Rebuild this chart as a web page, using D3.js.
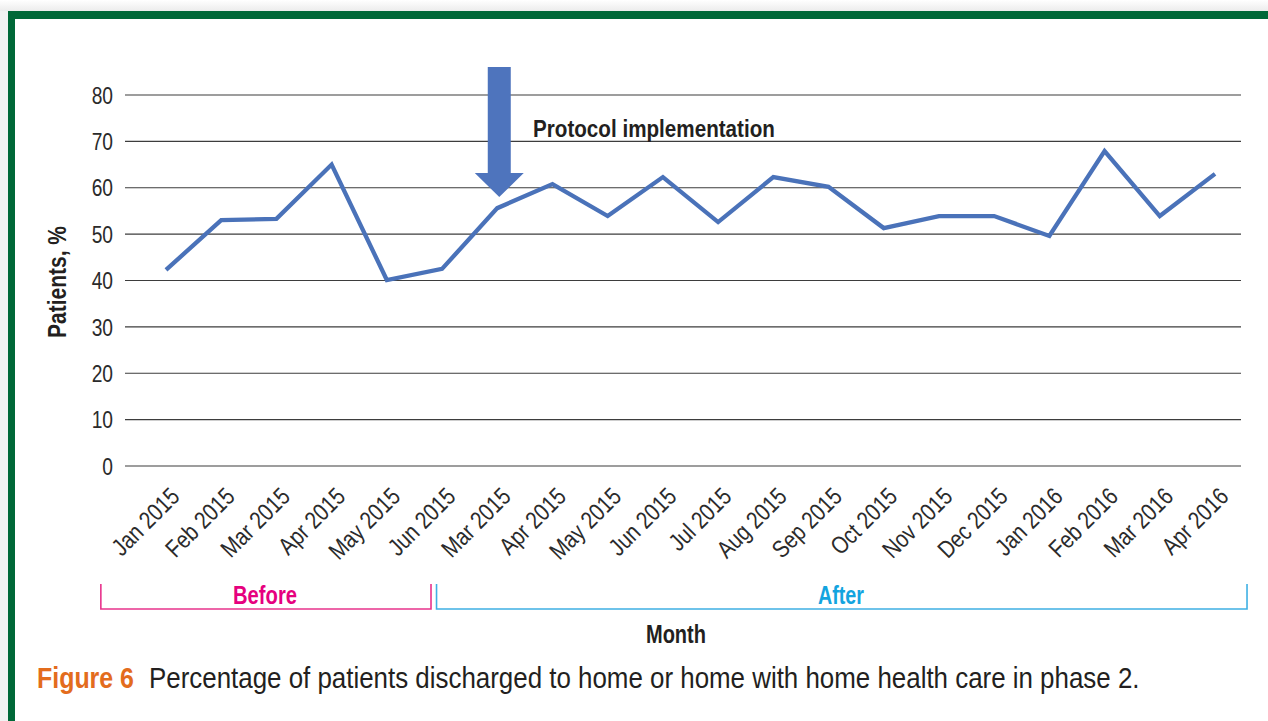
<!DOCTYPE html>
<html>
<head>
<meta charset="utf-8">
<script src="https://cdn.jsdelivr.net/npm/d3@7"></script>
<style>
  body { margin: 0; background: #fff; }
  text { font-family: "Liberation Sans", Arial, sans-serif; }
</style>
</head>
<body>
<div id="chart"></div>
<script>
const months = ["Jan 2015", "Feb 2015", "Mar 2015", "Apr 2015", "May 2015", "Jun 2015",
    "Mar 2015", "Apr 2015", "May 2015", "Jun 2015", "Jul 2015", "Aug 2015", "Sep 2015",
    "Oct 2015", "Nov 2015", "Dec 2015", "Jan 2016", "Feb 2016", "Mar 2016", "Apr 2016"];
const patients = [42.3, 53, 53.3, 65, 40.1, 42.5, 55.6, 60.8, 53.9, 62.3, 52.6, 62.3, 60.2,
    51.3, 53.9, 53.9, 49.6, 67.9, 53.9, 63];
const yTicks = [0, 10, 20, 30, 40, 50, 60, 70, 80];
const phaseNames = ["Before", "After"];
const phaseStart = [0, 6];
const phaseEnd = [5, 19];
const protocolAt = 6;

const width = 1268, height = 721;
const squeeze = 0.8; // condensed type look
const svg = d3.select('#chart').append('svg').attr('width', width).attr('height', height);

// squeeze a horizontal text to a given width with a transform
function fitText(sel, x0, y0, w, anchor) {
    const natural = sel.node().getComputedTextLength();
    const k = w / natural;
    const shift = anchor === 'middle' ? -w / 2 : 0;
    sel.attr('text-anchor', 'start').attr('transform', `translate(${x0 + shift},${y0}) scale(${k},1)`);
    return sel;
}

// page background + green frame
const bg = svg.append('defs').append('linearGradient').attr('id', 'fade').attr('x1', 0).attr('x2', 0).attr('y1', 0).attr('y2', 1);
bg.append('stop').attr('offset', 0).attr('stop-color', '#ffffff');
bg.append('stop').attr('offset', 1).attr('stop-color', '#ececec');
svg.append('rect').attr('width', width).attr('height', 11).attr('fill', 'url(#fade)');
svg.append('rect').attr('y', 11).attr('width', 8).attr('height', height).attr('fill', '#f2f2f2');
svg.append('rect').attr('x', 8).attr('y', 11).attr('width', width).attr('height', 8).attr('fill', '#006838');
svg.append('rect').attr('x', 8).attr('y', 11).attr('width', 7).attr('height', height).attr('fill', '#006838');

const x = d3.scalePoint().domain(d3.range(months.length)).range([166, 1215]);
const y = d3.scaleLinear().domain([0, 80]).range([466, 95]);
const gridLeft = 125, gridRight = 1241;

// gridlines
svg.append('g').selectAll('line').data(yTicks).join('line')
    .attr('x1', gridLeft).attr('x2', gridRight)
    .attr('y1', d => y(d)).attr('y2', d => y(d))
    .attr('stroke', '#3d3d3d').attr('stroke-width', 1.2);

// y tick labels
svg.append('g').selectAll('text').data(yTicks).join('text')
    .attr('transform', d => `translate(113,${y(d)}) scale(${squeeze},1)`)
    .attr('dy', '0.36em')
    .attr('text-anchor', 'end').attr('font-size', 24).attr('fill', '#2b2b2b')
    .text(d => d);

const ylab = svg.append('g').attr('transform', 'translate(66,282) rotate(-90)')
    .append('text')
    .attr('font-size', 25).attr('font-weight', 'bold').attr('fill', '#231f20')
    .text('Patients, %');
fitText(ylab, 0, 0, 112, 'middle');

// x tick labels
svg.append('g').selectAll('text').data(months).join('text')
    .attr('transform', (d, i) => `translate(${x(i) + 15},${498}) rotate(-45) scale(0.83,1)`)
    .attr('text-anchor', 'end').attr('font-size', 24.5).attr('fill', '#2b2b2b')
    .text(d => d);

// line
const line = d3.line().x((d, i) => x(i)).y(d => y(d));
svg.append('path').datum(patients)
    .attr('d', line).attr('fill', 'none')
    .attr('stroke', '#4a72b9').attr('stroke-width', 4.3).attr('stroke-linejoin', 'miter');

// protocol arrow
const ax = x(protocolAt) + 2;
const arrow = d3.path();
arrow.moveTo(ax - 11.5, 67);
arrow.lineTo(ax + 11.5, 67);
arrow.lineTo(ax + 11.5, 173);
arrow.lineTo(ax + 24.5, 173);
arrow.lineTo(ax, 197);
arrow.lineTo(ax - 24.5, 173);
arrow.lineTo(ax - 11.5, 173);
arrow.closePath();
svg.append('path').attr('d', arrow.toString()).attr('fill', '#4e74bd');

fitText(svg.append('text')
    .attr('font-size', 24).attr('font-weight', 'bold').attr('fill', '#231f20')
    .text('Protocol implementation'), 533, 137, 242);

// phase brackets
const step = x.step();
const phases = phaseNames.map((name, i) => ({
    name,
    left: i === 0 ? x(phaseStart[i]) - step * 1.18 : x(phaseStart[i]) - step * 1.1,
    right: i === 0 ? x(phaseEnd[i]) - step * 0.2 : x(phaseEnd[i]) + step * 0.58,
    line: i === 0 ? '#e8338c' : '#3fb0e4',
    ink: i === 0 ? '#e6007e' : '#13a4df',
    mid: i === 0 ? 265 : 841,
    textW: i === 0 ? 64 : 46
}));
const br = svg.append('g').selectAll('g').data(phases).join('g');
br.append('path')
    .attr('d', d => `M${d.left},584V609H${d.right}V584`)
    .attr('fill', 'none').attr('stroke', d => d.line).attr('stroke-width', 1.6);
br.append('text')
    .attr('font-size', 25).attr('font-weight', 'bold')
    .attr('fill', d => d.ink)
    .text(d => d.name)
    .each(function (d) { fitText(d3.select(this), d.mid, 604, d.textW, 'middle'); });

fitText(svg.append('text')
    .attr('font-size', 25).attr('font-weight', 'bold').attr('fill', '#231f20')
    .text('Month'), 676, 643, 60, 'middle');

// caption
fitText(svg.append('text').attr('font-size', 30)
    .attr('font-weight', 'bold').attr('fill', '#e36c1d')
    .text('Figure 6'), 37, 688, 97);
fitText(svg.append('text').attr('font-size', 30)
    .attr('fill', '#231f20')
    .text('Percentage of patients discharged to home or home with home health care in phase 2.'), 149, 688, 991);
</script>
</body>
</html>
